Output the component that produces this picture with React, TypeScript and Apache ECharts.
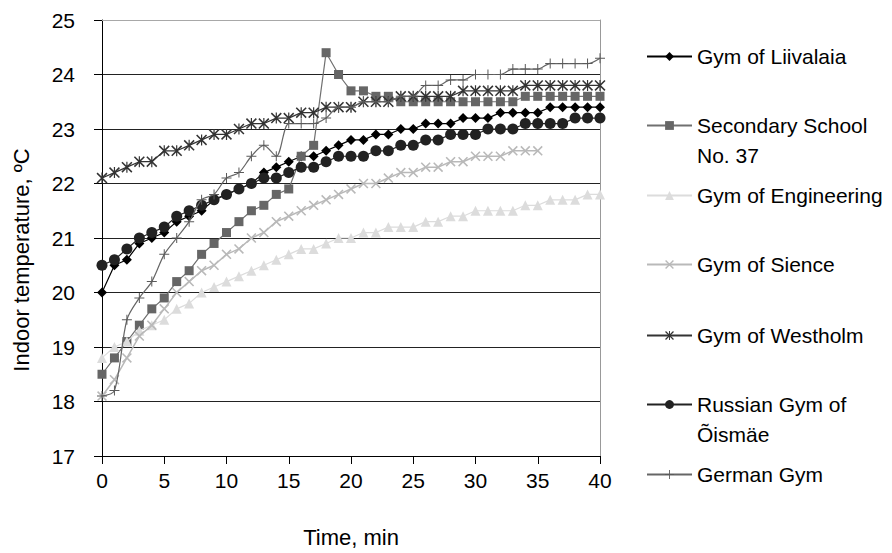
import React, { useEffect, useRef } from 'react';
import * as echarts from 'echarts';

const minutes = ['0','1','2','3','4','5','6','7','8','9','10','11','12','13','14','15','16','17','18','19','20','21','22','23','24','25','26','27','28','29','30','31','32','33','34','35','36','37','38','39','40'];

const liivalaia = [20.0, 20.5, 20.6, 20.9, 21.0, 21.1, 21.3, 21.4, 21.5, 21.7, 21.8, 21.9, 22.0, 22.2, 22.3, 22.4, 22.5, 22.5, 22.6, 22.7, 22.8, 22.8, 22.9, 22.9, 23.0, 23.0, 23.1, 23.1, 23.1, 23.2, 23.2, 23.2, 23.3, 23.3, 23.3, 23.3, 23.4, 23.4, 23.4, 23.4, 23.4];
const school37 = [18.5, 18.8, 19.1, 19.4, 19.7, 19.9, 20.2, 20.4, 20.7, 20.9, 21.1, 21.3, 21.5, 21.6, 21.8, 21.9, 22.5, 22.7, 24.4, 24.0, 23.7, 23.7, 23.6, 23.6, 23.5, 23.5, 23.5, 23.5, 23.5, 23.5, 23.5, 23.5, 23.5, 23.5, 23.6, 23.6, 23.6, 23.6, 23.6, 23.6, 23.6];
const engineering = [18.8, 19.0, 19.1, 19.3, 19.4, 19.5, 19.7, 19.8, 20.0, 20.1, 20.2, 20.3, 20.4, 20.5, 20.6, 20.7, 20.8, 20.8, 20.9, 21.0, 21.0, 21.1, 21.1, 21.2, 21.2, 21.2, 21.3, 21.3, 21.4, 21.4, 21.5, 21.5, 21.5, 21.5, 21.6, 21.6, 21.7, 21.7, 21.7, 21.8, 21.8];
const sience = [18.1, 18.4, 18.8, 19.2, 19.4, 19.7, 20.0, 20.2, 20.4, 20.5, 20.7, 20.8, 21.0, 21.1, 21.3, 21.4, 21.5, 21.6, 21.7, 21.8, 21.9, 22.0, 22.0, 22.1, 22.2, 22.2, 22.3, 22.3, 22.4, 22.4, 22.5, 22.5, 22.5, 22.6, 22.6, 22.6];
const westholm = [22.1, 22.2, 22.3, 22.4, 22.4, 22.6, 22.6, 22.7, 22.8, 22.9, 22.9, 23.0, 23.1, 23.1, 23.2, 23.2, 23.3, 23.3, 23.4, 23.4, 23.4, 23.5, 23.5, 23.5, 23.6, 23.6, 23.6, 23.6, 23.6, 23.7, 23.7, 23.7, 23.7, 23.7, 23.8, 23.8, 23.8, 23.8, 23.8, 23.8, 23.8];
const russian = [20.5, 20.6, 20.8, 21.0, 21.1, 21.2, 21.4, 21.5, 21.6, 21.7, 21.8, 21.9, 22.0, 22.1, 22.1, 22.2, 22.3, 22.3, 22.4, 22.5, 22.5, 22.5, 22.6, 22.6, 22.7, 22.7, 22.8, 22.8, 22.9, 22.9, 22.9, 23.0, 23.0, 23.0, 23.1, 23.1, 23.1, 23.1, 23.2, 23.2, 23.2];
const german = [18.1, 18.2, 19.5, 19.9, 20.2, 20.7, 21.0, 21.3, 21.7, 21.8, 22.1, 22.2, 22.5, 22.7, 22.5, 23.1, 23.1, 23.1, 23.2, 23.4, 23.4, 23.5, 23.5, 23.5, 23.6, 23.6, 23.8, 23.8, 23.9, 23.9, 24.0, 24.0, 24.0, 24.1, 24.1, 24.1, 24.2, 24.2, 24.2, 24.2, 24.3];

const seriesNames = ['Gym of Liivalaia', 'Secondary School No. 37', 'Gym of Engineering', 'Gym of Sience', 'Gym of Westholm', 'Russian Gym of Õismäe', 'German Gym'];

const PLUS = 'path://M-1,-10L1,-10L1,-1L10,-1L10,1L1,1L1,10L-1,10L-1,1L-10,1L-10,-1L-1,-1Z';
const CROSS = 'path://M-8.75,-11.25L11.25,8.75L8.75,11.25L-11.25,-8.75Z M-11.25,8.75L8.75,-11.25L11.25,-8.75L-8.75,11.25Z';
const STAR = 'path://M-8.9,-11.1L11.1,8.9L8.9,11.1L-11.1,-8.9Z M-11.1,8.9L8.9,-11.1L11.1,-8.9L-8.9,11.1Z M-1.2,-11.1L1.2,-11.1L1.2,11.1L-1.2,11.1Z';

const FONT = '"Liberation Sans", Arial, Helvetica, sans-serif';

export default function App() {
  const ref = useRef<HTMLDivElement>(null);
  useEffect(() => {
    if (!ref.current) return;
    const chart = echarts.init(ref.current, undefined, { renderer: 'svg' });

    const styles = [
      { data: liivalaia, color: '#000000', line: '#000000', symbol: 'diamond', size: 10, width: 1.2 },
      { data: school37, color: '#666666', line: '#707070', symbol: 'rect', size: 9, width: 1.2 },
      { data: engineering, color: '#dcdcdc', line: '#dcdcdc', symbol: 'triangle', size: 10, width: 1.2 },
      { data: sience, color: '#b9b9b9', line: '#b9b9b9', symbol: CROSS, size: 10, width: 1.5 },
      { data: westholm, color: '#333333', line: '#333333', symbol: STAR, size: 11, width: 1.2 },
      { data: russian, color: '#222222', line: '#222222', symbol: 'circle', size: 11, width: 1.2 },
      { data: german, color: '#5a5a5a', line: '#666666', symbol: PLUS, size: 10, width: 1.2, smooth: 0.3 },
    ];

    const series = styles.map((s, i) => ({
      type: 'line',
      name: seriesNames[i],
      data: s.data,
      symbol: s.symbol,
      symbolSize: s.size,
      showAllSymbol: true,
      smooth: (s as any).smooth || false,
      lineStyle: { color: s.line, width: s.width },
      itemStyle: { color: s.color },
      emphasis: { disabled: true },
      z: 2 + i,
    }));

    const legendTextCenters = [57, 126, 196, 265, 336, 405, 475];
    const firstLines: Record<string, string> = {
      'Secondary School No. 37': 'Secondary School',
      'Russian Gym of Õismäe': 'Russian Gym of',
    };
    const legends = seriesNames.map((n, i) => ({
      data: [n],
      left: 646,
      top: legendTextCenters[i] - 11,
      orient: 'horizontal',
      itemWidth: 45,
      itemHeight: 11,
      itemGap: 0,
      padding: 0,
      selectedMode: false,
      formatter: (name: string) => firstLines[name] || name,
      textStyle: { color: '#000', fontSize: 21, fontFamily: FONT },
    }));

    chart.setOption({
      animation: false,
      backgroundColor: '#ffffff',
      textStyle: { fontFamily: FONT },
      grid: { left: 102, top: 20, width: 498, height: 440, containLabel: false },
      xAxis: [
        {
          type: 'category',
          data: minutes,
          boundaryGap: false,
          axisLine: { lineStyle: { color: '#000', width: 1 } },
          axisTick: { show: true, interval: 4, length: 8, lineStyle: { color: '#000' } },
          axisLabel: { interval: 4, color: '#000', fontSize: 21, margin: 14, fontFamily: FONT },
          splitLine: { show: false },
          name: 'Time, min',
          nameLocation: 'middle',
          nameGap: 70,
          nameTextStyle: { color: '#000', fontSize: 22, fontFamily: FONT },
        },
        {
          type: 'category',
          data: minutes,
          boundaryGap: false,
          position: 'top',
          axisLine: { show: true, lineStyle: { color: '#a8a8a8', width: 1 } },
          axisTick: { show: false },
          axisLabel: { show: false },
          splitLine: { show: false },
        },
      ],
      yAxis: [
        {
          type: 'value',
          min: 17,
          max: 25,
          interval: 1,
          axisLine: { show: true, lineStyle: { color: '#000', width: 1 } },
          axisTick: { show: true, length: 8, lineStyle: { color: '#000' } },
          axisLabel: { color: '#000', fontSize: 21, margin: 27, fontFamily: FONT },
          splitLine: { show: true, showMaxLine: false, lineStyle: { color: '#222', width: 1 } },
          name: 'Indoor temperature, ºC',
          nameLocation: 'middle',
          nameGap: 70,
          nameTextStyle: { color: '#000', fontSize: 22, fontFamily: FONT, padding: [0, 44, 0, 0] },
        },
        {
          type: 'value',
          min: 17,
          max: 25,
          interval: 1,
          position: 'right',
          axisLine: { show: true, lineStyle: { color: '#999', width: 1 } },
          axisTick: { show: false },
          axisLabel: { show: false },
          splitLine: { show: false },
        },
      ],
      legend: legends,
      graphic: [
        { type: 'text', left: 697, top: legendTextCenters[1] + 30 - 11, style: { text: 'No. 37', font: `21px ${FONT}`, fill: '#000' } },
        { type: 'text', left: 697, top: legendTextCenters[5] + 30 - 11, style: { text: 'Õismäe', font: `21px ${FONT}`, fill: '#000' } },
      ],
      series,
    });

    return () => chart.dispose();
  }, []);

  return <div ref={ref} style={{ position: 'absolute', left: 0, top: 0, width: 892, height: 553 }} />;
}
